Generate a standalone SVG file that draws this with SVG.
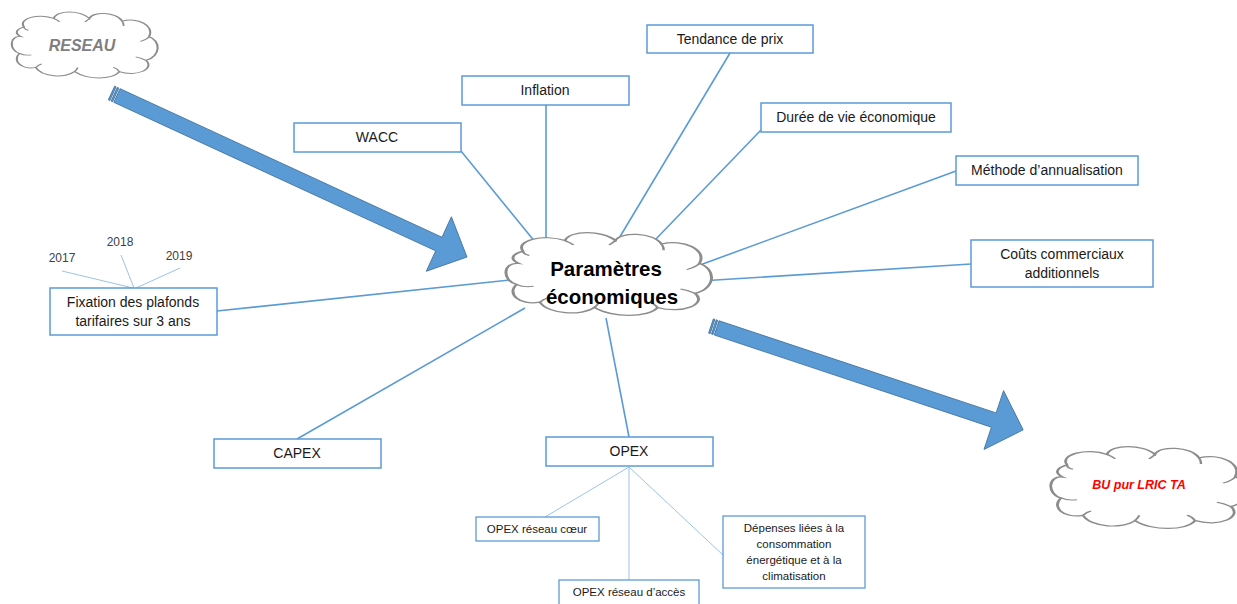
<svg xmlns="http://www.w3.org/2000/svg" width="1237" height="604" viewBox="0 0 1237 604">
<style>
.box{fill:#fff;stroke:#5b9bd5;stroke-width:1.5}
.sbox{fill:#fff;stroke:#5b9bd5;stroke-width:1.3}
.t{font-family:"Liberation Sans",Arial,sans-serif;font-size:14px;fill:#1a1a1a;text-anchor:middle}
.ts{font-family:"Liberation Sans",Arial,sans-serif;font-size:11.5px;fill:#1a1a1a;text-anchor:middle}
.ty{font-family:"Liberation Sans",Arial,sans-serif;font-size:12px;fill:#404040;text-anchor:middle}
.ln{stroke:#5b9bd5;stroke-width:1.6;fill:none}
.lt{stroke:#9dc3e6;stroke-width:1;fill:none}
.cl{fill:#fff;stroke:#8c8c8c;stroke-width:1.4;vector-effect:non-scaling-stroke}
.ch{fill:none;stroke:#8c8c8c;stroke-width:1.2;vector-effect:non-scaling-stroke}
.arr{fill:#5b9bd5;stroke:#41719c;stroke-width:0.8}
</style>
<defs>
<path id="cloud" d="M8,38 C0,36 0,58 7,62 C2,72 8,86 18,82 C22,96 38,98 44,88 C52,100 70,100 74,88 C86,96 98,84 92,72 C102,66 102,44 94,38 C98,22 86,10 76,16 C72,2 56,2 54,12 C48,0 32,0 30,12 C20,4 6,12 10,24 C4,28 4,34 8,38 Z"/>
<path id="hooks" d="M7,62 C9,64 12,65 15,64 M18,82 C19,80 20,78 22,77 M44,88 C45,86 46,84 46,82 M74,88 C73,85 72,83 70,82 M92,72 C90,70 88,68 85,67 M94,38 C93,41 91,43 88,45 M76,16 C77,19 77,21 77,23 M54,12 C53,14 52,16 51,17 M30,12 C31,13 33,15 34,17 M10,24 C10,26 11,28 13,29"/>
</defs>

<g id="connectors">
<line class="ln" x1="461" y1="151" x2="540" y2="248"/>
<line class="ln" x1="546" y1="105" x2="546" y2="245"/>
<line class="ln" x1="730" y1="53" x2="618" y2="240"/>
<line class="ln" x1="761" y1="130" x2="655" y2="240"/>
<line class="ln" x1="956" y1="171" x2="700" y2="265"/>
<line class="ln" x1="971" y1="264" x2="700" y2="281"/>
<line class="ln" x1="217" y1="311" x2="510" y2="280"/>
<line class="ln" x1="297" y1="439" x2="525" y2="308"/>
<line class="ln" x1="606" y1="318" x2="629" y2="437"/>
<line class="lt" x1="629" y1="467" x2="545" y2="517"/>
<line class="lt" x1="629" y1="467" x2="629" y2="580"/>
<line class="lt" x1="629" y1="467" x2="723" y2="555"/>
<line class="lt" x1="133" y1="288" x2="62" y2="271"/>
<line class="lt" x1="134" y1="288" x2="121" y2="255"/>
<line class="lt" x1="136" y1="288" x2="180" y2="268"/>
</g>

<g id="arrow-reseau" transform="translate(111.5,93) rotate(24.77)">
<rect class="arr" x="0" y="-7.5" width="1.6" height="15"/>
<rect class="arr" x="3" y="-7.5" width="1.6" height="15"/>
<path class="arr" d="M6,-7.5 L360.5,-7.5 L360.5,-30 L391.5,0 L360.5,30 L360.5,7.5 L6,7.5 Z"/>
</g>
<g id="arrow-bu" transform="translate(711,326) rotate(18.4)">
<rect class="arr" x="0" y="-7.5" width="1.6" height="15"/>
<rect class="arr" x="3" y="-7.5" width="1.6" height="15"/>
<path class="arr" d="M6,-7.5 L298,-7.5 L298,-31 L329,0 L298,31 L298,7.5 L6,7.5 Z"/>
</g>

<g id="node-reseau">
<g transform="translate(9,10) scale(1.49,0.7)"><use href="#cloud" class="cl"/><use href="#hooks" class="ch"/></g>
<text x="82" y="51" style="font-family:'Liberation Sans',Arial,sans-serif;font-size:16px;font-weight:bold;font-style:italic;fill:#7f7f7f;text-anchor:middle">RESEAU</text>
</g>

<g id="node-parametres">
<g transform="translate(502,230) scale(2.1,0.88)"><use href="#cloud" class="cl"/><use href="#hooks" class="ch"/></g>
<text x="606" y="276" style="font-family:'Liberation Sans',Arial,sans-serif;font-size:20.5px;font-weight:bold;fill:#000;text-anchor:middle">Paramètres</text>
<text x="612" y="304" style="font-family:'Liberation Sans',Arial,sans-serif;font-size:20.5px;font-weight:bold;fill:#000;text-anchor:middle">économiques</text>
</g>

<g id="node-bu">
<g transform="translate(1047,444) scale(2.0,0.87)"><use href="#cloud" class="cl"/><use href="#hooks" class="ch"/></g>
<text x="1139" y="489" style="font-family:'Liberation Sans',Arial,sans-serif;font-size:12.5px;font-weight:bold;font-style:italic;fill:#ff0000;text-anchor:middle">BU pur LRIC TA</text>
</g>

<g id="node-tendance"><rect class="box" x="647" y="25" width="166" height="28"/><text class="t" x="730" y="44">Tendance de prix</text></g>
<g id="node-inflation"><rect class="box" x="462" y="76" width="167" height="29"/><text class="t" x="545" y="95">Inflation</text></g>
<g id="node-wacc"><rect class="box" x="294" y="123" width="167" height="29"/><text class="t" x="377" y="142">WACC</text></g>
<g id="node-duree"><rect class="box" x="761" y="103" width="190" height="29"/><text class="t" x="856" y="122">Durée de vie économique</text></g>
<g id="node-methode"><rect class="box" x="956" y="156" width="182" height="29"/><text class="t" x="1047" y="175">Méthode d’annualisation</text></g>
<g id="node-couts"><rect class="box" x="971" y="240" width="182" height="47"/><text class="t" x="1062" y="259">Coûts commerciaux</text><text class="t" x="1062" y="278">additionnels</text></g>
<g id="node-fixation"><rect class="box" x="50" y="288" width="167" height="47"/><text class="t" x="133" y="307">Fixation des plafonds</text><text class="t" x="133" y="326">tarifaires sur 3 ans</text></g>
<g id="node-capex"><rect class="box" x="214" y="439" width="167" height="29"/><text class="t" x="297" y="458">CAPEX</text></g>
<g id="node-opex"><rect class="box" x="546" y="437" width="167" height="29"/><text class="t" x="629" y="456">OPEX</text></g>
<g id="node-opex-coeur"><rect class="sbox" x="476" y="517" width="123" height="24"/><text class="ts" x="537" y="533">OPEX réseau cœur</text></g>
<g id="node-opex-acces"><rect class="sbox" x="559" y="580" width="140" height="30"/><text class="ts" x="629" y="596">OPEX réseau d’accès</text></g>
<g id="node-depenses"><rect class="sbox" x="723" y="516" width="142" height="72"/>
<text class="ts" x="794" y="532">Dépenses liées à la</text>
<text class="ts" x="794" y="548">consommation</text>
<text class="ts" x="794" y="564">énergétique et à la</text>
<text class="ts" x="794" y="580">climatisation</text></g>
<g id="years">
<text class="ty" x="62" y="262">2017</text>
<text class="ty" x="120" y="246">2018</text>
<text class="ty" x="179" y="260">2019</text>
</g>
</svg>
